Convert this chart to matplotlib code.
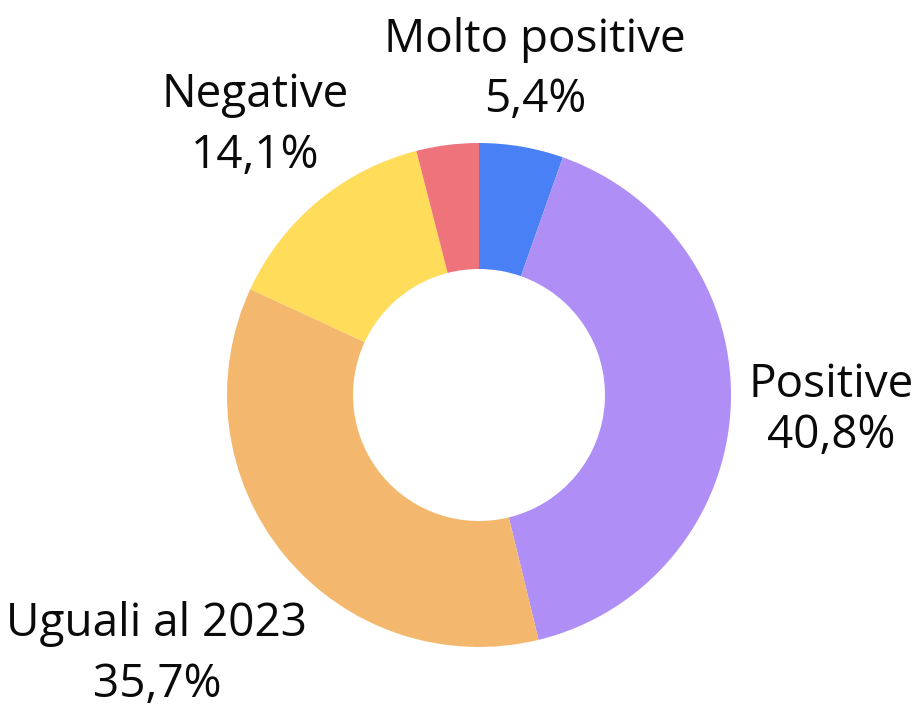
import numpy as np
import matplotlib
matplotlib.use("Agg")
import matplotlib.pyplot as plt

categories = ["Molto positive", "Positive", "Uguali al 2023", "Negative", "Molto negative"]
values = [5.4, 40.8, 35.7, 14.1, 4.0]
show_label = [True, True, True, True, False]
colors = ["#4a80f5", "#af8ef5", "#f3b86e", "#ffdc5a", "#ef737b"]

# label layout: (x, first-baseline y) in units of the outer radius, and line gap
label_pos = [(0.222, 1.361), (1.397, -0.008), (-1.278, -0.956), (-0.889, 1.143), (0.0, 1.3)]
label_gap = [0.238, 0.202, 0.242, 0.242, 0.24]

W, H = 915, 707
cx, cy, R = 479, 395, 252

plt.rcParams['font.family'] = ['Open Sans', 'DejaVu Sans']
fig = plt.figure(figsize=(W / 100, H / 100), dpi=100)
ax = fig.add_axes([0, 0, 1, 1])

ax.pie(values, colors=colors, startangle=90, counterclock=False, radius=1.0,
       wedgeprops=dict(width=0.5, linewidth=0), center=(0, 0), frame=True)
ax.set_xlim(-cx / R, (W - cx) / R)
ax.set_ylim(-(H - cy) / R, cy / R)
ax.set_aspect("equal")
ax.axis("off")

for name, v, show, (x, y), g in zip(categories, values, show_label, label_pos, label_gap):
    if not show:
        continue
    pct = f"{v:.1f}%".replace(".", ",")
    ax.text(x, y, name, ha="center", va="baseline", fontsize=33, color="#0a0a0a")
    ax.text(x, y - g, pct, ha="center", va="baseline", fontsize=33, color="#0a0a0a")

fig.savefig("out.png", dpi=100)
